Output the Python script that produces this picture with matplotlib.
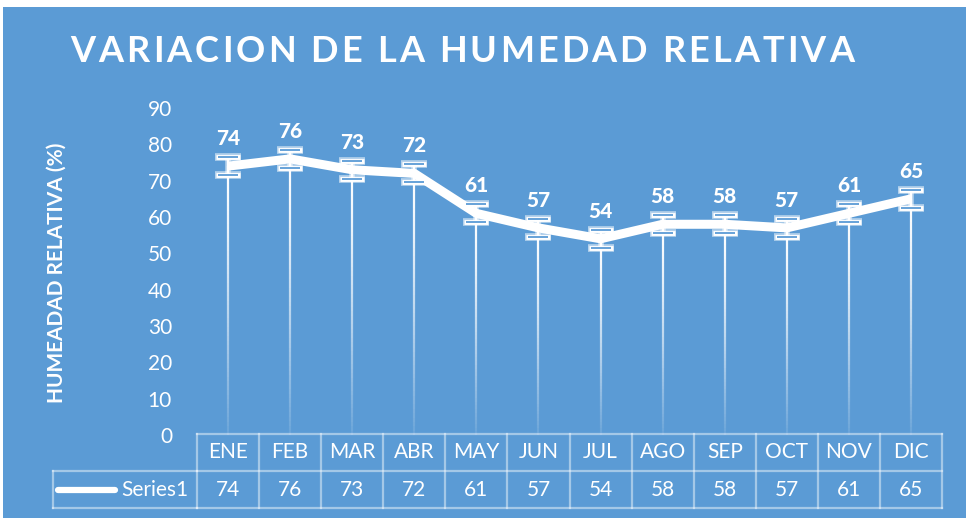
import matplotlib
matplotlib.use("Agg")
import matplotlib.pyplot as plt
import matplotlib.transforms as mtransforms
from matplotlib.collections import LineCollection
from matplotlib.patches import Rectangle
import numpy as np

months = ["ENE", "FEB", "MAR", "ABR", "MAY", "JUN", "JUL", "AGO", "SEP", "OCT", "NOV", "DIC"]
humidity = [74, 76, 73, 72, 61, 57, 54, 58, 58, 57, 61, 65]
err = 2.5
yticks = [0, 10, 20, 30, 40, 50, 60, 70, 80, 90]
series_name = "Series1"
title = "VARIACION DE LA HUMEDAD RELATIVA"
ylabel = "HUMEADAD RELATIVA (%)"

BG = "#5B9BD5"
FONT = "Lato"
W, H = 971, 518

fig = plt.figure(figsize=(W / 100, H / 100), dpi=100)
fig.patch.set_facecolor("white")
fig.patches.append(Rectangle((3 / W, 0), (966 - 3) / W, (H - 7) / H,
                             transform=fig.transFigure, facecolor=BG,
                             edgecolor="none", zorder=-10))

L, R, T, B = 197, 942, 108, 435
ax = fig.add_axes([L / W, 1 - B / H, (R - L) / W, (B - T) / H])
ax.set_facecolor("none")
for s in ax.spines.values():
    s.set_visible(False)

x = np.arange(len(months))
ax.set_xlim(-0.5, len(months) - 0.5)
ax.set_ylim(0, 90)
ax.set_yticks(yticks)
ax.set_yticklabels([str(v) for v in yticks], fontsize=15, color="white", family=FONT)
ax.tick_params(axis="y", length=0, pad=18)
ax.set_xticks([])

# drop lines with fading gradient
for xi, yi in zip(x, humidity):
    n = 60
    ys = np.linspace(yi, 0, n + 1)
    segs = [[(xi, ys[k]), (xi, ys[k + 1])] for k in range(n)]
    t = np.linspace(0, 1, n)
    alphas = np.clip(1.0 - 0.9 * t ** 1.3, 0.05, 1)
    cols = [(1, 1, 1, a) for a in alphas]
    lcoll = LineCollection(segs, colors=cols, linewidths=1.6, zorder=2)
    lcoll.set_capstyle("butt")
    ax.add_collection(lcoll)

# main line
ax.plot(x, humidity, color="white", lw=6.5, solid_capstyle="butt",
        solid_joinstyle="round", zorder=4)

# error bars with glow caps
ax.errorbar(x, humidity, yerr=err, fmt="none", ecolor=(1, 1, 1, 0.55),
            elinewidth=4, capsize=9.5, capthick=5.5, zorder=5)
ax.errorbar(x, humidity, yerr=err, fmt="none", ecolor="white",
            elinewidth=1.6, capsize=8.5, capthick=3.5, zorder=5)
ax.errorbar(x, humidity, yerr=err, fmt="none", ecolor=BG,
            elinewidth=0, capsize=7, capthick=1.3, zorder=6)

# data labels
for xi, yi in zip(x, humidity):
    ax.annotate(str(yi), (xi, yi), xytext=(0, 13), textcoords="offset points",
                ha="center", va="bottom", fontsize=15, fontweight="black",
                color="white", family=FONT, zorder=7)

# title with letter spacing
renderer = fig.canvas.get_renderer()
title_kw = dict(fontsize=26, fontweight="bold", color="white", family=FONT,
                va="center", ha="left")
def text_width(s):
    t = fig.text(0, 0, s, **title_kw)
    w = t.get_window_extent(renderer).width
    t.remove()
    return w
full_w = text_width(title)
target_left, target_right = 70, 854
gap = (target_right - target_left - full_w) / (len(title) - 1)
for k, ch in enumerate(title):
    if ch == " ":
        continue
    px = target_left + (text_width(title[:k] + "|") - text_width("|") if k > 0 else 0) + k * gap
    fig.text(px / W, 1 - 52 / H, ch, **title_kw)

fig.text(57 / W, 1 - 273 / H, ylabel, ha="center", va="center", rotation=90,
         fontsize=15, fontweight="bold", color="white", family=FONT)

# data table
trans = mtransforms.blended_transform_factory(ax.transData, ax.transAxes)
ph = B - T
y_top = (B - 434) / ph
y_mid = (B - 471) / ph
y_bot = (B - 508) / ph
lc = (1, 1, 1, 0.45)
lw = 1.6
ax.plot([-0.5, len(months) - 0.5], [y_top, y_top], transform=trans, color=lc, lw=lw, clip_on=False)
ax.plot([-0.5, len(months) - 0.5], [y_mid, y_mid], transform=trans, color=lc, lw=lw, clip_on=False)
ax.plot([-0.5, len(months) - 0.5], [y_bot, y_bot], transform=trans, color=lc, lw=lw, clip_on=False)
for k in range(len(months) + 1):
    ax.plot([k - 0.5, k - 0.5], [y_top, y_bot], transform=trans, color=lc, lw=lw, clip_on=False)
for xi, m, v in zip(x, months, humidity):
    ax.text(xi, (y_top + y_mid) / 2, m, transform=trans, ha="center", va="center",
            fontsize=15, color="white", family=FONT)
    ax.text(xi, (y_mid + y_bot) / 2, str(v), transform=trans, ha="center", va="center",
            fontsize=15, color="white", family=FONT)

xl = (53 - L) / (R - L)
ax.plot([xl, 0], [y_mid, y_mid], transform=ax.transAxes, color=lc, lw=lw, clip_on=False)
ax.plot([xl, 0], [y_bot, y_bot], transform=ax.transAxes, color=lc, lw=lw, clip_on=False)
ax.plot([xl, xl], [y_mid, y_bot], transform=ax.transAxes, color=lc, lw=lw, clip_on=False)
ax.plot([(58 - L) / (R - L), (115 - L) / (R - L)], [(y_mid + y_bot) / 2] * 2,
        transform=ax.transAxes, color="white", lw=4.5, solid_capstyle="round", clip_on=False)
ax.text((188 - L) / (R - L), (y_mid + y_bot) / 2, series_name, transform=ax.transAxes,
        ha="right", va="center", fontsize=15, color="white", family=FONT)

fig.savefig("out.png", dpi=100, facecolor=fig.get_facecolor())
